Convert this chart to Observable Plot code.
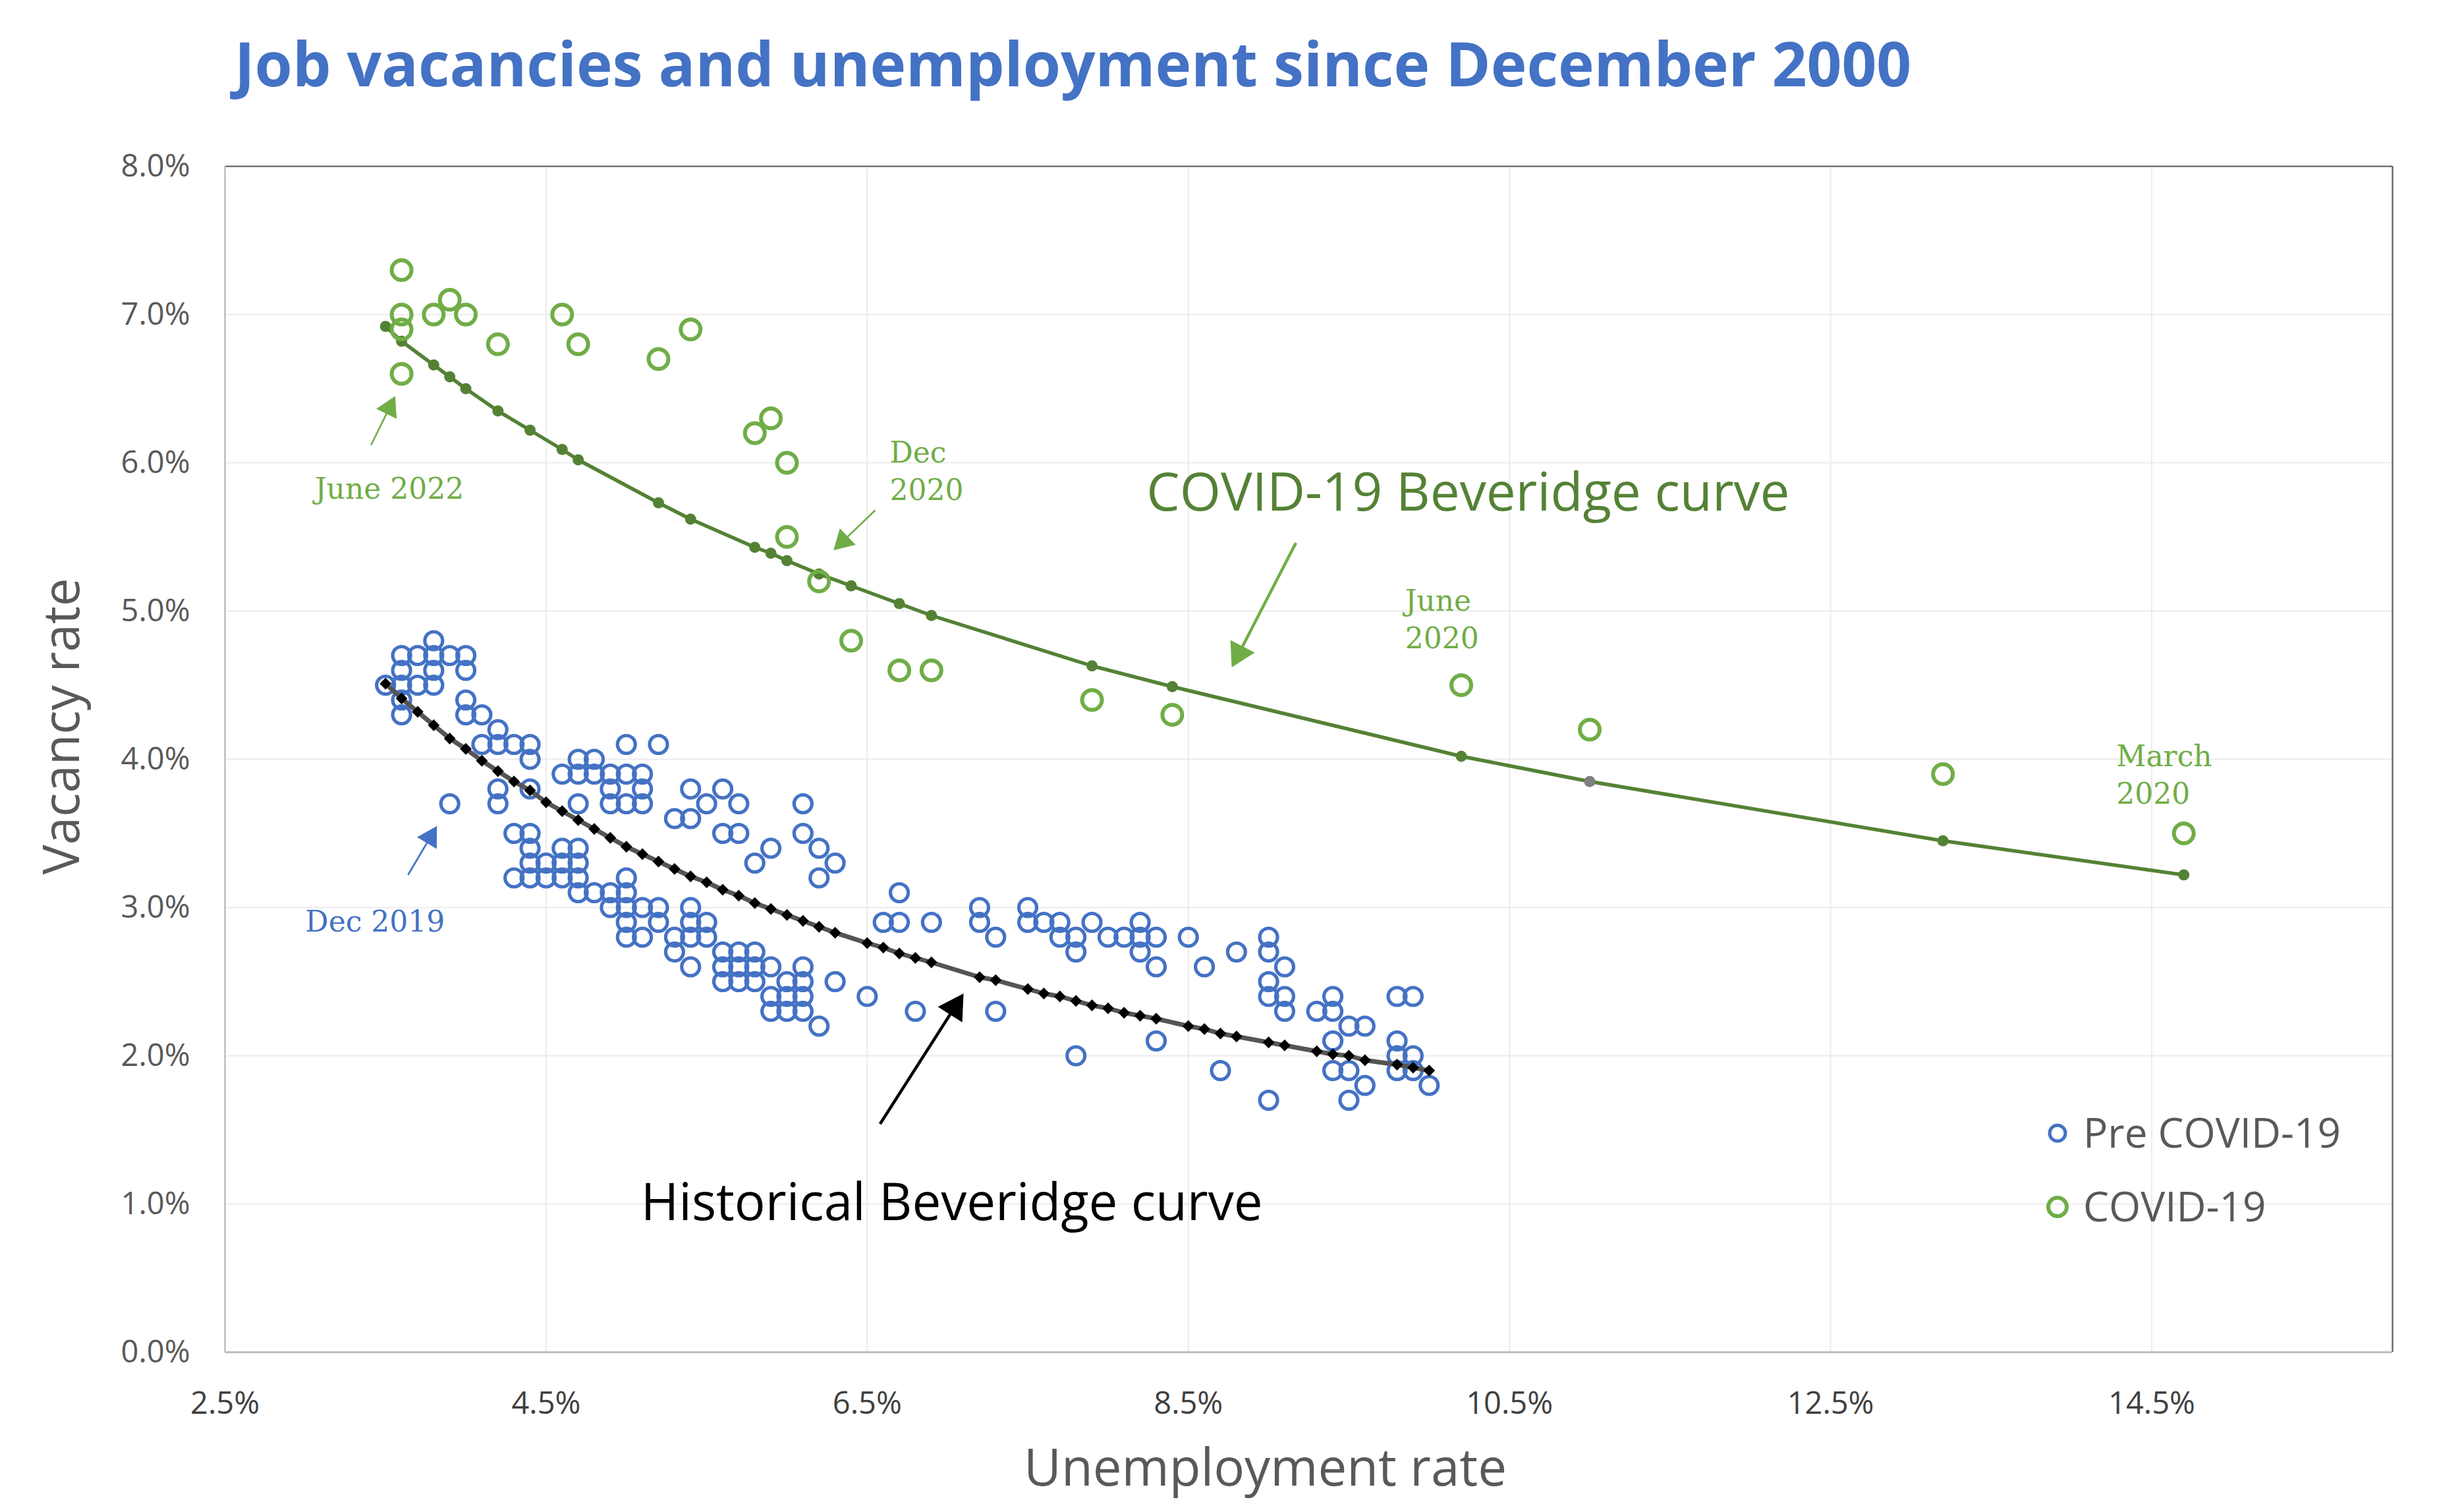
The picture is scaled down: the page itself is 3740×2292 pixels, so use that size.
<!DOCTYPE html>
<html>
<head>
<meta charset="utf-8">
<script src="https://cdn.jsdelivr.net/npm/d3@7"></script>
<script src="https://cdn.jsdelivr.net/npm/@observablehq/plot@0.6"></script>
<style>
  html, body { margin: 0; padding: 0; background: #ffffff; }
  #wrap { position: relative; width: 3740px; height: 2292px; overflow: hidden; background: #ffffff; }
  #title { position: absolute; left: 356px; top: 49px; font-family: 'Open Sans', sans-serif; font-weight: 700;
           font-size: 92.5px; line-height: 1; color: #4472C4; white-space: nowrap; }
  #chart { position: absolute; left: 0; top: 180px; }
  #legend { position: absolute; left: 3080px; top: 1660px; }
</style>
</head>
<body>
<div id="wrap">
  <div id="title">Job vacancies and unemployment since December 2000</div>
  <div id="chart"></div>
  <div id="legend"></div>
</div>
<script>
// ---------- data ----------
const xTicks = [2.5, 4.5, 6.5, 8.5, 10.5, 12.5, 14.5];
const yTicks = [0, 1, 2, 3, 4, 5, 6, 7, 8];

// Pre COVID-19: vacancy rate rows and the unemployment rates observed at each row
const preVacancyRows = [4.8, 4.7, 4.6, 4.5, 4.4, 4.3, 4.2, 4.1, 4.0, 3.9, 3.8, 3.7, 3.6, 3.5, 3.4, 3.3,
                        3.2, 3.1, 3.0, 2.9, 2.8, 2.7, 2.6, 2.5, 2.4, 2.3, 2.2, 2.1, 2.0, 1.9, 1.8, 1.7];
const preUnemploymentRows = [
  [3.8],
  [3.6, 3.7, 3.8, 3.9, 4.0],
  [3.6, 3.8, 4.0],
  [3.5, 3.6, 3.7, 3.8],
  [3.6, 4.0],
  [3.6, 4.0, 4.1],
  [4.2],
  [4.1, 4.2, 4.3, 4.4, 5.0, 5.2],
  [4.4, 4.7, 4.8],
  [4.6, 4.7, 4.8, 4.9, 5.0, 5.1],
  [4.2, 4.4, 4.9, 5.1, 5.4, 5.6],
  [3.9, 4.2, 4.7, 4.9, 5.0, 5.1, 5.5, 5.7, 6.1],
  [5.3, 5.4],
  [4.3, 4.4, 5.6, 5.7, 6.1],
  [4.4, 4.6, 4.7, 5.9, 6.2],
  [4.4, 4.5, 4.6, 4.7, 5.8, 6.3],
  [4.3, 4.4, 4.5, 4.6, 4.7, 5.0, 6.2],
  [4.7, 4.8, 4.9, 5.0, 6.7],
  [4.9, 5.0, 5.1, 5.2, 5.4, 7.2, 7.5],
  [5.0, 5.2, 5.4, 5.5, 6.6, 6.7, 6.9, 7.2, 7.5, 7.6, 7.7, 7.9, 8.2],
  [5.0, 5.1, 5.3, 5.4, 5.5, 7.3, 7.7, 7.8, 8.0, 8.1, 8.2, 8.3, 8.5, 9.0],
  [5.3, 5.6, 5.7, 5.8, 7.8, 8.2, 8.8, 9.0],
  [5.4, 5.6, 5.7, 5.8, 5.9, 6.1, 8.3, 8.6, 9.1],
  [5.6, 5.7, 5.8, 6.0, 6.1, 6.3, 9.0],
  [5.9, 6.0, 6.1, 6.5, 9.0, 9.1, 9.4, 9.8, 9.9],
  [5.9, 6.0, 6.1, 6.8, 7.3, 9.1, 9.3, 9.4],
  [6.2, 9.5, 9.6],
  [8.3, 9.4, 9.8],
  [7.8, 9.8, 9.9],
  [8.7, 9.4, 9.5, 9.8, 9.9],
  [9.6, 10.0],
  [9.0, 9.5]
];

// COVID-19 period
const covidUnemployment = [14.7, 13.2, 11.0, 10.2, 8.4, 7.9, 6.9, 6.7, 6.4, 6.2, 6.0, 6.0, 5.8,
                           5.9, 5.4, 5.2, 4.7, 4.6, 4.2, 3.9, 4.0, 3.8, 3.6, 3.6, 3.6, 3.6];
const covidVacancy      = [3.5, 3.9, 4.2, 4.5, 4.3, 4.4, 4.6, 4.6, 4.8, 5.2, 5.5, 6.0, 6.2,
                           6.3, 6.9, 6.7, 6.8, 7.0, 6.8, 7.1, 7.0, 7.0, 7.3, 7.0, 6.9, 6.6];

// Historical Beveridge curve (fitted values at observed unemployment rates)
const historicalCurveX = [3.5, 3.6, 3.7, 3.8, 3.9, 4.0, 4.1, 4.2, 4.3, 4.4, 4.5, 4.6, 4.7, 4.8, 4.9, 5.0,
                          5.1, 5.2, 5.3, 5.4, 5.5, 5.6, 5.7, 5.8, 5.9, 6.0, 6.1, 6.2, 6.3, 6.5, 6.6, 6.7,
                          6.8, 6.9, 7.2, 7.3, 7.5, 7.6, 7.7, 7.8, 7.9, 8.0, 8.1, 8.2, 8.3, 8.5, 8.6, 8.7,
                          8.8, 9.0, 9.1, 9.3, 9.4, 9.5, 9.6, 9.8, 9.9, 10.0];
const historicalCurveY = [4.51, 4.41, 4.32, 4.23, 4.14, 4.07, 3.99, 3.92, 3.85, 3.79, 3.71, 3.65, 3.59, 3.53, 3.47, 3.41,
                          3.36, 3.31, 3.26, 3.21, 3.17, 3.12, 3.08, 3.03, 2.99, 2.95, 2.91, 2.87, 2.83, 2.76, 2.73, 2.69,
                          2.66, 2.63, 2.53, 2.51, 2.45, 2.42, 2.40, 2.37, 2.34, 2.32, 2.29, 2.27, 2.25, 2.20, 2.18, 2.15,
                          2.13, 2.09, 2.07, 2.03, 2.01, 2.00, 1.97, 1.94, 1.92, 1.90];

// COVID-19 Beveridge curve (fitted values)
const covidCurveX = [3.5, 3.6, 3.8, 3.9, 4.0, 4.2, 4.4, 4.6, 4.7, 5.2, 5.4, 5.8, 5.9, 6.0, 6.2, 6.4,
                     6.7, 6.9, 7.9, 8.4, 10.2, 11.0, 13.2, 14.7];
const covidCurveY = [6.92, 6.82, 6.66, 6.58, 6.50, 6.35, 6.22, 6.09, 6.02, 5.73, 5.62, 5.43, 5.39, 5.34, 5.25, 5.17,
                     5.05, 4.97, 4.63, 4.49, 4.02, 3.85, 3.45, 3.22];

const seriesNames = ["Pre COVID-19", "COVID-19"];

// annotation labels: text, anchor x (left), baseline y of last line
const noteText = ["June 2022", "Dec\n2020", "June\n2020", "March\n2020", "Dec 2019"];
const noteX    = [3.06, 6.64, 9.85, 14.28, 3.0];
const noteY    = [5.76, 5.75, 4.75, 3.70, 2.84];
const noteKind = ["covid", "covid", "covid", "covid", "pre"];

const curveLabelText = ["COVID-19 Beveridge curve", "Historical Beveridge curve"];
const curveLabelX = [8.24, 5.09];
const curveLabelY = [5.68, 0.89];

// arrows: tail (x1,y1) -> tip (x2,y2)
const arrowX1 = [3.41, 3.64, 6.55, 6.58, 9.17];
const arrowY1 = [6.12, 3.22, 5.68, 1.54, 5.46];
const arrowX2 = [3.56, 3.82, 6.29, 7.10, 8.77];
const arrowY2 = [6.45, 3.55, 5.41, 2.42, 4.62];
const arrowKind = ["covid", "pre", "covid", "hist", "covidBig"];

// ---------- styling ----------
const BLUE = "#4472C4", GREEN = "#70AD47", DKGREEN = "#548235", GRAY = "#595959";
const W = 3740, H = 2112, ML = 341, MR = 109, MT = 72, MB = 240;
const xDomain = [2.5, 16], yDomain = [0, 8];
const kx = (W - ML - MR) / (xDomain[1] - xDomain[0]);
const ky = (H - MT - MB) / (yDomain[1] - yDomain[0]);

const pre = preVacancyRows.flatMap((v, i) => preUnemploymentRows[i].map(u => ({u, v})));
const covid = covidUnemployment.map((u, i) => ({u, v: covidVacancy[i]}));
const hist = historicalCurveX.map((u, i) => ({u, v: historicalCurveY[i]}));
const ccurve = covidCurveX.map((u, i) => ({u, v: covidCurveY[i]}));

const arrowStyle = {
  covid:    {color: GREEN, width: 2.6, head: 30},
  pre:      {color: BLUE,  width: 2.6, head: 30},
  hist:     {color: "#000000", width: 4.5, head: 38},
  covidBig: {color: GREEN, width: 4.5, head: 36}
};
function arrowMarks(i) {
  const s = arrowStyle[arrowKind[i]];
  const x1 = arrowX1[i], y1 = arrowY1[i], x2 = arrowX2[i], y2 = arrowY2[i];
  const px = (x2 - x1) * kx, py = -(y2 - y1) * ky;
  const len = Math.hypot(px, py), ux = px / len, uy = py / len;
  const r = s.head / 2.333;
  const back = 1.555 * r;
  const cx = x2 - back * ux / kx, cy = y2 + back * uy / ky;
  const rot = Math.atan2(ux, -uy) * 180 / Math.PI;
  return [
    Plot.link([0], {x1: () => x1, y1: () => y1, x2: () => cx, y2: () => cy, stroke: s.color, strokeWidth: s.width}),
    Plot.dot([0], {x: () => cx, y: () => cy, symbol: "triangle", r, rotate: rot, fill: s.color, stroke: "none"})
  ];
}

const noteColor = {covid: GREEN, pre: BLUE};

const chart = Plot.plot({
  width: W, height: H,
  marginLeft: ML, marginRight: MR, marginTop: MT, marginBottom: MB,
  style: {fontFamily: "'Open Sans', sans-serif", background: "#ffffff", overflow: "visible"},
  x: {domain: xDomain, label: null},
  y: {domain: yDomain, label: null},
  marks: [
    Plot.gridX(xTicks, {stroke: "#EBEBEB", strokeOpacity: 1, strokeWidth: 2}),
    Plot.gridY(yTicks, {stroke: "#EBEBEB", strokeOpacity: 1, strokeWidth: 2}),
    Plot.ruleY([8], {stroke: GRAY, strokeWidth: 2.2}),
    Plot.ruleX([16], {stroke: GRAY, strokeWidth: 2.2}),
    Plot.ruleY([0], {stroke: "#BFBFBF", strokeWidth: 3}),
    Plot.ruleX([2.5], {stroke: "#BFBFBF", strokeWidth: 2.5}),
    Plot.axisY(yTicks, {tickSize: 0, tickPadding: 53, tickFormat: d => d.toFixed(1) + "%",
                        fontSize: 47, fill: GRAY, label: null}),
    Plot.axisX(xTicks, {tickSize: 0, tickPadding: 60, tickFormat: d => d.toFixed(1) + "%",
                        fontSize: 47, fill: "#404040", label: null}),
    Plot.text(["Vacancy rate"], {frameAnchor: "left", dx: -246, dy: -50, rotate: -90,
                        fontSize: 76, fill: GRAY, textAnchor: "middle", lineAnchor: "middle"}),
    Plot.text(["Unemployment rate"], {frameAnchor: "bottom", dx: -66, dy: 178,
                        fontSize: 78, fill: GRAY, textAnchor: "middle", lineAnchor: "middle"}),
    // pre COVID scatter
    Plot.dot(pre, {x: "u", y: "v", r: 13.5, stroke: BLUE, strokeWidth: 5.2, fill: "none"}),
    // historical curve
    Plot.line(hist, {x: "u", y: "v", stroke: "#555555", strokeWidth: 7}),
    Plot.dot(hist, {x: "u", y: "v", symbol: "diamond2", r: 8, fill: "#000000", stroke: "none"}),
    // covid curve
    Plot.line(ccurve, {x: "u", y: "v", stroke: DKGREEN, strokeWidth: 5.5}),
    Plot.dot(ccurve.filter(d => d.u !== 11.0), {x: "u", y: "v", r: 8.5, fill: DKGREEN, stroke: "none"}),
    Plot.dot(ccurve.filter(d => d.u === 11.0), {x: "u", y: "v", r: 8.5, fill: "#7F7F7F", stroke: "none"}),
    // covid scatter
    Plot.dot(covid, {x: "u", y: "v", r: 15, stroke: GREEN, strokeWidth: 6, fill: "none"}),
    // annotations
    ...noteText.map((t, i) => Plot.text([t], {x: () => noteX[i], y: () => noteY[i], text: d => d,
        fill: noteColor[noteKind[i]], fontSize: 44, fontFamily: "'DejaVu Serif', serif",
        textAnchor: "start", lineAnchor: "bottom", lineHeight: 1.3})),
    Plot.text([curveLabelText[0]], {x: () => curveLabelX[0], y: () => curveLabelY[0], text: d => d,
        fill: DKGREEN, fontSize: 80, textAnchor: "start", lineAnchor: "bottom"}),
    Plot.text([curveLabelText[1]], {x: () => curveLabelX[1], y: () => curveLabelY[1], text: d => d,
        fill: "#000000", fontSize: 78, textAnchor: "start", lineAnchor: "bottom"}),
    ...arrowX1.flatMap((_, i) => arrowMarks(i))
  ]
});
document.getElementById("chart").appendChild(chart);

// legend
const legendColors = [BLUE, GREEN];
const legendR = [12, 14];
const legendSW = [5, 6];
const leg = d3.select("#legend").append("svg").attr("width", 600).attr("height", 230);
seriesNames.forEach((name, i) => {
  const cy = 60 + i * 112;
  leg.append("circle").attr("cx", 43).attr("cy", cy).attr("r", legendR[i])
     .attr("fill", "none").attr("stroke", legendColors[i]).attr("stroke-width", legendSW[i]);
  leg.append("text").attr("x", 82).attr("y", cy + 22).text(name)
     .attr("font-family", "'Open Sans', sans-serif").attr("font-size", 62).attr("fill", GRAY);
});
</script>
</body>
</html>
